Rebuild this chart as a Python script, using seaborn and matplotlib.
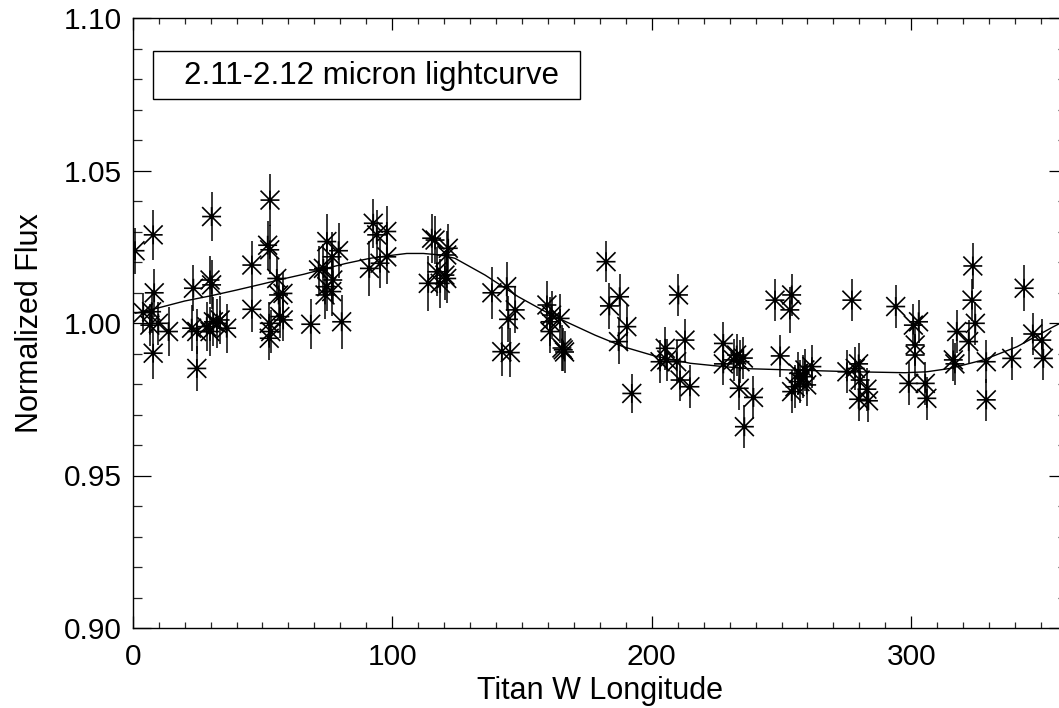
import numpy as np
import pandas as pd
import matplotlib
matplotlib.use("Agg")
import matplotlib.pyplot as plt
from matplotlib.path import Path
from matplotlib.patches import Rectangle
from matplotlib.ticker import MultipleLocator, FormatStrFormatter
import seaborn as sns

# ---------------- data ----------------
lon = [0.9, 7.9, 8.3, 4.1, 7.3, 6.6, 9.9, 7.9, 13.8, 24.7,
       23.4, 22.7, 24.7, 30.4, 29.8, 30.4, 28.5, 31.1, 33.7, 29.8,
       36.2, 32.4, 45.9, 45.9, 52.9, 52.0, 52.8, 55.5, 56.2, 57.9,
       52.6, 53.2, 52.6, 56.7, 58.0, 68.6, 80.5, 74.8, 79.3, 76.8,
       71.6, 73.5, 77.1, 74.8, 76.7, 74.1, 92.7, 94.0, 97.9, 97.9,
       95.3, 91.2, 115.2, 116.5, 113.9, 121.6, 121.0, 117.2, 120.3, 118.5,
       121.0, 138.4, 144.1, 147.4, 144.8, 142.2, 145.5, 159.6, 161.4, 160.8,
       164.7, 160.8, 165.9, 166.4, 165.4, 182.4, 183.7, 187.6, 190.4, 187.2,
       192.3, 210.3, 205.2, 205.8, 203.2, 212.8, 209.6, 210.9, 214.7, 227.6,
       227.6, 231.5, 232.7, 234.0, 235.3, 233.7, 235.7, 239.2, 249.5, 247.5,
       253.9, 253.2, 253.9, 255.2, 257.1, 258.4, 256.5, 259.0, 261.7, 259.7,
       277.1, 275.2, 278.4, 279.7, 280.3, 282.9, 279.7, 283.5, 294.0, 300.8,
       302.8, 301.5, 301.5, 299.0, 305.4, 306.0, 317.5, 316.2, 316.8, 323.7,
       323.4, 324.7, 322.1, 328.9, 328.9, 338.7, 343.5, 346.8, 350.3, 350.9]
flux = [1.0237, 1.0289, 1.0099, 1.0034, 1.0037, 0.9993, 0.9999, 0.9901, 0.9972, 0.9851,
        1.0114, 0.9983, 0.9972, 1.0349, 1.0141, 1.0125, 0.9988, 1.0004, 1.0010, 0.9972,
        0.9983, 0.9999, 1.0190, 1.0045, 1.0403, 1.0255, 1.0240, 1.0146, 1.0092, 1.0097,
        0.9999, 0.9972, 0.9950, 1.0021, 1.0010, 0.9996, 1.0004, 1.0267, 1.0237, 1.0217,
        1.0174, 1.0179, 1.0141, 1.0119, 1.0103, 1.0092, 1.0327, 1.0289, 1.0300, 1.0217,
        1.0196, 1.0179, 1.0278, 1.0272, 1.0130, 1.0245, 1.0223, 1.0168, 1.0157, 1.0130,
        1.0146, 1.0099, 1.0119, 1.0043, 1.0012, 0.9906, 0.9903, 1.0059, 1.0026, 1.0004,
        1.0015, 0.9972, 0.9912, 0.9905, 0.9918, 1.0201, 1.0056, 1.0086, 0.9988, 0.9939,
        0.9769, 1.0092, 0.9917, 0.9879, 0.9873, 0.9944, 0.9873, 0.9813, 0.9791, 0.9933,
        0.9866, 0.9879, 0.9895, 0.9873, 0.9885, 0.9786, 0.9660, 0.9756, 0.9892, 1.0075,
        1.0092, 1.0043, 0.9775, 0.9791, 0.9808, 0.9824, 0.9835, 0.9846, 0.9857, 0.9797,
        1.0075, 0.9840, 0.9851, 0.9866, 0.9813, 0.9783, 0.9750, 0.9745, 1.0054, 0.9993,
        1.0004, 0.9928, 0.9895, 0.9802, 0.9802, 0.9753, 0.9972, 0.9879, 0.9866, 1.0187,
        1.0075, 0.9999, 0.9939, 0.9873, 0.9748, 0.9884, 1.0114, 0.9964, 0.9944, 0.9884]
err = [0.0075, 0.0082, 0.0078, 0.0065, 0.0070, 0.0070, 0.0070, 0.0085, 0.0080, 0.0075,
       0.0075, 0.0075, 0.0075, 0.0080, 0.0080, 0.0080, 0.0080, 0.0080, 0.0080, 0.0080,
       0.0080, 0.0080, 0.0080, 0.0075, 0.0085, 0.0080, 0.0080, 0.0070, 0.0070, 0.0070,
       0.0070, 0.0070, 0.0070, 0.0070, 0.0070, 0.0082, 0.0088, 0.0090, 0.0090, 0.0080,
       0.0080, 0.0080, 0.0080, 0.0080, 0.0080, 0.0080, 0.0080, 0.0080, 0.0085, 0.0090,
       0.0080, 0.0090, 0.0080, 0.0080, 0.0090, 0.0080, 0.0080, 0.0080, 0.0080, 0.0080,
       0.0080, 0.0085, 0.0080, 0.0075, 0.0075, 0.0080, 0.0080, 0.0078, 0.0080, 0.0080,
       0.0080, 0.0070, 0.0070, 0.0070, 0.0075, 0.0068, 0.0075, 0.0075, 0.0075, 0.0075,
       0.0065, 0.0070, 0.0070, 0.0070, 0.0070, 0.0070, 0.0070, 0.0070, 0.0070, 0.0070,
       0.0070, 0.0070, 0.0070, 0.0070, 0.0070, 0.0070, 0.0070, 0.0070, 0.0070, 0.0070,
       0.0070, 0.0075, 0.0070, 0.0070, 0.0070, 0.0070, 0.0070, 0.0070, 0.0070, 0.0070,
       0.0070, 0.0070, 0.0070, 0.0070, 0.0070, 0.0070, 0.0070, 0.0070, 0.0070, 0.0070,
       0.0070, 0.0070, 0.0070, 0.0070, 0.0070, 0.0070, 0.0070, 0.0070, 0.0070, 0.0075,
       0.0070, 0.0070, 0.0070, 0.0070, 0.0070, 0.0070, 0.0075, 0.0070, 0.0070, 0.0070]

fit_lon = [1, 9.2, 20, 30, 40, 50, 58.7, 66, 72.2, 82, 91.4, 98, 105.6, 112, 118.5,
           124.2, 135.8, 148.6, 161.4, 178.2, 189.1, 201.9, 214.8, 227.6, 237.9,
           261.7, 278.4, 297.6, 305.9, 314.9, 327.8, 340.7, 354.8, 358.5]
fit_flux = [1.0032, 1.0048, 1.0072, 1.0089, 1.0108, 1.0128, 1.0146, 1.0160, 1.0174,
            1.0195, 1.0212, 1.0220, 1.0228, 1.0228, 1.0223, 1.0212, 1.0157, 1.0086,
            1.0026, 0.9960, 0.9922, 0.9890, 0.9868, 0.9857, 0.9850, 0.9844, 0.9840,
            0.9837, 0.9840, 0.9851, 0.9879, 0.9922, 0.9988, 1.0004]

x_ticks = [0, 100, 200, 300]
y_ticks = [0.90, 0.95, 1.00, 1.05, 1.10]
legend_label = "2.11-2.12 micron lightcurve"

# ---------------- figure ----------------
sns.set_theme(style="white")
plt.rcParams['font.family'] = ['Liberation Sans', 'DejaVu Sans']

df = pd.DataFrame({"lon": lon, "flux": flux, "err": err})
fit = pd.DataFrame({"lon": fit_lon, "flux": fit_flux})

fig = plt.figure(figsize=(10.59, 7.08), dpi=100)
ax = fig.add_axes([132.7 / 1059, 1 - 628 / 708, (1067 - 132.7) / 1059, 610 / 708])

# error bars
ax.errorbar(df["lon"], df["flux"], yerr=df["err"], fmt="none",
            ecolor="black", elinewidth=1.1, capsize=0, zorder=2)

# asterisk marker (IDL psym=2 style)
verts = [(-1, 0), (1, 0), (-1, -1), (1, 1), (-1, 1), (1, -1), (0, -1), (0, 1)]
codes = [Path.MOVETO, Path.LINETO] * 4
asterisk = Path(verts, codes)
sns.scatterplot(data=df, x="lon", y="flux", marker=asterisk, s=185,
                facecolors="none", edgecolor="black", linewidth=1.2,
                ax=ax, zorder=3, legend=False)

# fitted curve
sns.lineplot(data=fit, x="lon", y="flux", sort=False, estimator=None,
             color="black", linewidth=1.0, ax=ax, zorder=4)

ax.set_xlim(0, 360)
ax.set_ylim(0.90, 1.10)
ax.set_xticks(x_ticks)
ax.set_yticks(y_ticks)
ax.yaxis.set_major_formatter(FormatStrFormatter('%.2f'))
ax.xaxis.set_minor_locator(MultipleLocator(10))
ax.yaxis.set_minor_locator(MultipleLocator(0.01))

ax.tick_params(axis='x', which='major', direction='in', length=8.6, width=0.9,
               top=True, bottom=True, labelsize=21.5, pad=11, colors='black')
ax.tick_params(axis='x', which='minor', direction='in', length=4.3, width=0.9,
               top=True, bottom=True)
ax.tick_params(axis='y', which='major', direction='in', length=13.3, width=0.9,
               left=True, right=True, labelsize=21.5, pad=8, colors='black')
ax.tick_params(axis='y', which='minor', direction='in', length=6.6, width=0.9,
               left=True, right=True)
for sp in ax.spines.values():
    sp.set_visible(True)
    sp.set_color('black')
    sp.set_linewidth(1.0)

ax.set_xlabel("Titan W Longitude", fontsize=22, color='black')
ax.set_ylabel("Normalized Flux", fontsize=22, color='black')
ax.xaxis.set_label_coords(0.5, -0.079)
ax.yaxis.set_label_coords(-0.094, 0.5)

# legend-like box
ax.add_patch(Rectangle((0.0217, 0.867), 0.457, 0.079, transform=ax.transAxes,
                       fill=False, edgecolor='black', linewidth=1.0, zorder=5))
ax.text(0.055, 0.905, legend_label, transform=ax.transAxes, fontsize=22.5,
        va='center', ha='left', color='black', zorder=6)

fig.savefig("out.png", dpi=100)
